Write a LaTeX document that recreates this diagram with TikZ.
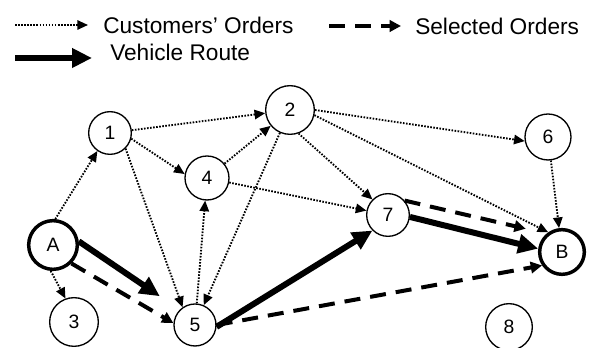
\documentclass[tikz,border=0pt]{standalone}
\usepackage{fontspec}
\setmainfont{Liberation Sans}
\usetikzlibrary{arrows.meta, positioning, calc}
\tikzset{
  stop/.style={
    circle, draw, line width=1pt, minimum size=32pt, inner sep=0pt,
    font=\fontsize{14.5}{17}\selectfont
  },
  depot/.style={stop, line width=2.6pt},
  order/.style={-{Triangle[length=8pt, width=7pt]}, line width=1.4pt,
    dash pattern=on 1.2pt off 1.1pt},
  chosen/.style={-{Triangle[length=8.5pt, width=8.5pt]}, line width=3pt,
    dash pattern=on 12pt off 7.5pt},
  route/.style={-{Triangle[length=15pt, width=14pt]}, line width=4.5pt},
  legend/.style={anchor=west, inner sep=0pt, font=\fontsize{17}{20}\selectfont}
}
\begin{document}
\begin{tikzpicture}[x=0.75pt, y=-0.75pt]
  \useasboundingbox (0,0) rectangle (590,348);

  % Legend
  \coordinate (ordL) at (15,25);
  \coordinate (ordR) at (88,25);
  \node[legend] (ordtxt) at (103,25) {Customers' Orders};
  \draw[order] (ordL) -- (ordR);

  \coordinate (selL) at (329,26);
  \coordinate (selR) at (401,26);
  \node[legend] (seltxt) at (415,26) {Selected Orders};
  \draw[chosen] (selL) -- (selR);

  \coordinate (vehL) at (15,58);
  \coordinate (vehR) at (92,58);
  \node[legend] (vehtxt) at (110,52.5) {Vehicle Route};
  \draw[route] (vehL) -- (vehR);

  % Depots and customers
  \node[depot, minimum size=36.5pt] (A) at (53,245) {A};
  \node[depot, minimum size=33.5pt] (B) at (562,252) {B};
  \node[stop] (n1) at (110,133) {1};
  \node[stop, minimum size=36.5pt] (n2) at (290,110) {2};
  \node[stop, minimum size=36.5pt] (n3) at (74,322) {3};
  \node[stop, minimum size=33pt] (n4) at (207,178) {4};
  \node[stop, minimum size=31.5pt] (n5) at (195,325) {5};
  \node[stop, minimum size=34.5pt] (n6) at (548,137) {6};
  \node[stop] (n7) at (388,215) {7};
  \node[stop, minimum size=35pt] (n8) at (509,327) {8};

  % Customers' orders
  \draw[order] (A.85) -- (n1.235);
  \draw[order] (A.-95) -- (n3.110);
  \draw[order] (n1) -- (n2);
  \draw[order] (n1.-15) -- (n4.170);
  \draw[order] (n1.-45) -- (n5.125);
  \draw[order] (n4) -- (n2);
  \draw[order] (n4) -- (n7);
  \draw[order] (n5) -- (n4);
  \draw[order] (n2) -- (n5);
  \draw[order] (n2.-70) -- (n7.135);
  \draw[order] (n2.east) -- (n6.190);
  \draw[order] (n2.-12) -- (B.125);
  \draw[order] (n6) -- (B);

  % Selected orders
  \draw[chosen] (A.-45) -- (n5.175);
  \draw[chosen, shorten >=16pt] (n7.41) -- (B.130);
  \draw[chosen] (n5.east) -- (B.-146);

  % Vehicle route
  \draw[route, shorten >=18pt] (A.8) -- (n5.135);
  \draw[route] (n5.-5) -- (n7.-135);
  \draw[route] (n7.-5) -- (B.172);
\end{tikzpicture}
\end{document}
